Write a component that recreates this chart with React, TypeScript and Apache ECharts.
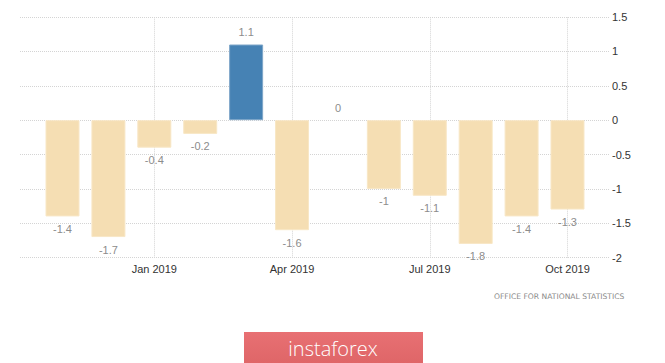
import React, { useEffect, useRef } from "react";
import * as echarts from "echarts";

const months = ["Nov 2018", "Dec 2018", "Jan 2019", "Feb 2019", "Mar 2019", "Apr 2019", "May 2019", "Jun 2019", "Jul 2019", "Aug 2019", "Sep 2019", "Oct 2019"];
const values = [-1.4, -1.7, -0.4, -0.2, 1.1, -1.6, 0, -1, -1.1, -1.8, -1.4, -1.3];
const tickIndices = [2, 5, 8, 11];
const yTicks = [-2, -1.5, -1, -0.5, 0, 0.5, 1, 1.5];
const sourceText = "OFFICE FOR NATIONAL STATISTICS";
const brandText = "instaforex";

export default function App() {
  const ref = useRef<HTMLDivElement>(null);
  useEffect(() => {
    const chart = echarts.init(ref.current!, null, { renderer: "svg" });
    const fmt = (v: number) => String(v);
    const grid = { color: "#d4d4d4", type: [1, 1], width: 1 };
    chart.setOption({
      animation: false,
      backgroundColor: "#ffffff",
      grid: { left: 20, right: 55, top: 17, bottom: 105.3 },
      xAxis: {
        type: "value",
        min: -0.926,
        max: 11.926,
        axisLine: { show: false },
        axisTick: { show: false },
        splitLine: { show: false },
        axisLabel: {
          customValues: tickIndices,
          formatter: (v: number) => months[Math.round(v)] ?? "",
          color: "#333",
          fontSize: 11,
          fontFamily: "Liberation Sans, Arial, sans-serif",
          margin: 6,
        },
      },
      yAxis: {
        type: "value",
        position: "right",
        min: yTicks[0],
        max: yTicks[yTicks.length - 1],
        interval: 0.5,
        axisLine: { show: false },
        axisTick: { show: false },
        axisLabel: {
          color: "#333",
          fontSize: 11,
          fontFamily: "Liberation Sans, Arial, sans-serif",
          margin: 2,
          formatter: fmt,
        },
        splitLine: { lineStyle: grid },
      },
      series: [
        {
          type: "bar",
          barWidth: 34,
          data: values.map((v, i) => ({
            value: [i, v],
            itemStyle: {
              color: v > 0 ? "#4682b4" : "#f5deb3",
              borderColor: v > 0 ? "#7ea6c9" : "#f8e7c6",
              borderWidth: v === 0 ? 0 : 1,
            },
            label: { position: v >= 0 ? "top" : "bottom" },
          })),
          label: {
            show: true,
            distance: 7,
            color: "#8c8c8c",
            fontSize: 11,
            fontFamily: "Liberation Sans, Arial, sans-serif",
            formatter: (p: any) => fmt(p.value[1]),
          },
          markLine: {
            silent: true,
            symbol: "none",
            label: { show: false },
            lineStyle: grid,
            data: tickIndices.map((t) => ({ xAxis: t })),
            z: 0,
          },
        },
      ],
      graphic: [
        {
          type: "text",
          left: 494,
          top: 292,
          style: { text: sourceText, fill: "#8a8a8a", fontSize: 7.6, fontFamily: "DejaVu Sans, sans-serif" },
        },
        {
          type: "rect",
          shape: { x: 244, y: 332, width: 179, height: 31 },
          style: {
            fill: new echarts.graphic.LinearGradient(0, 0, 0, 1, [
              { offset: 0, color: "#e87073" },
              { offset: 1, color: "#df6668" },
            ]),
          },
        },
        {
          type: "text",
          x: 333,
          y: 348,
          style: {
            text: brandText,
            fill: "#ffffff",
            fontSize: 20,
            fontWeight: 300,
            fontFamily: "Open Sans, sans-serif",
            align: "center",
            verticalAlign: "middle",
          },
        },
      ],
    });
    return () => chart.dispose();
  }, []);
  return <div ref={ref} style={{ position: "fixed", left: 0, top: 0, width: 665, height: 363 }} />;
}
